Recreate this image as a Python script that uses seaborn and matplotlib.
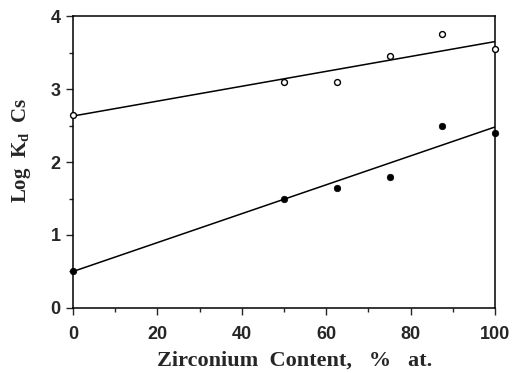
import matplotlib
matplotlib.use('Agg')
import matplotlib.pyplot as plt
import seaborn as sns
import pandas as pd
from matplotlib.ticker import MultipleLocator

# data
zr_content = [0, 50, 62.5, 75, 87.5, 100]
logkd_open = [2.65, 3.1, 3.1, 3.45, 3.75, 3.55]
logkd_filled = [0.5, 1.5, 1.65, 1.8, 2.5, 2.4]

# fitted lines (end points)
fit_x = [0, 100]
fit_open = [2.63, 3.65]
fit_filled = [0.5, 2.48]

sns.set_style("ticks")
plt.rcParams['font.family'] = ['Liberation Sans', 'DejaVu Sans']

fig = plt.figure(figsize=(5.12, 3.73), dpi=100)
ax = fig.add_axes([0.1426, 0.1743, 0.8242, 0.7827])

sns.lineplot(x=fit_x, y=fit_open, color='black', linewidth=1.1, ax=ax)
sns.lineplot(x=fit_x, y=fit_filled, color='black', linewidth=1.1, ax=ax)

df = pd.DataFrame({'x': zr_content, 'open': logkd_open, 'filled': logkd_filled})
sns.scatterplot(data=df, x='x', y='open', marker='o', s=18, facecolor='white',
                edgecolor='black', linewidth=1.0, ax=ax, zorder=3, clip_on=False)
sns.scatterplot(data=df, x='x', y='filled', marker='o', s=22, color='black',
                edgecolor='black', linewidth=0.5, ax=ax, zorder=3, clip_on=False)

ax.set_xlim(0, 100)
ax.set_ylim(0, 4)
ax.xaxis.set_major_locator(MultipleLocator(20))
ax.xaxis.set_minor_locator(MultipleLocator(10))
ax.yaxis.set_major_locator(MultipleLocator(1))
ax.yaxis.set_minor_locator(MultipleLocator(0.5))
ax.tick_params(which='major', length=5, width=1.0, direction='out', labelsize=13)
ax.tick_params(axis='x', which='major', pad=8)
ax.tick_params(axis='y', which='major', pad=4)
ax.tick_params(which='minor', length=3, width=1.0, direction='out')
for lab in ax.get_xticklabels() + ax.get_yticklabels():
    lab.set_fontweight('bold')

for sp in ax.spines.values():
    sp.set_linewidth(1.1)
    sp.set_color('black')

ax.set_xlabel('Zirconium  Content,   %   at.', fontsize=16, fontweight='bold',
              family='Liberation Serif')
ax.set_ylabel(r'Log  K$_\mathregular{d}$  Cs', fontsize=15, fontweight='bold',
              family='Liberation Serif')
ax.xaxis.set_label_coords(0.524, -0.145)
ax.yaxis.set_label_coords(-0.095, 0.54)

fig.savefig('out.png', dpi=100)
